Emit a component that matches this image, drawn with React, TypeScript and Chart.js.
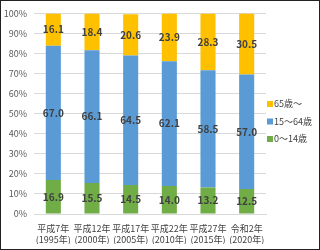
import React, { useEffect, useRef } from "react";
import { Chart, registerables } from "chart.js";

Chart.register(...registerables);

const categories: string[][] = [
  ["平成7年", "(1995年)"],
  ["平成12年", "(2000年)"],
  ["平成17年", "(2005年)"],
  ["平成22年", "(2010年)"],
  ["平成27年", "(2015年)"],
  ["令和2年", "(2020年)"],
];
const age0to14 = [16.9, 15.5, 14.5, 14.0, 13.2, 12.5];
const age15to64 = [67.0, 66.1, 64.5, 62.1, 58.5, 57.0];
const age65plus = [16.1, 18.4, 20.6, 23.9, 28.3, 30.5];
const seriesNames = ["0～14歳", "15～64歳", "65歳～"];
const colors = ["#70AD47", "#5B9BD5", "#FFC000"];

const FONT = "'Noto Sans CJK JP', 'Noto Sans', sans-serif";

const labelPlugin = {
  id: "segLabels",
  afterDatasetsDraw(chart: any) {
    const ctx = chart.ctx;
    ctx.save();
    ctx.font = `bold 10px ${FONT}`;
    ctx.fillStyle = "#404040";
    ctx.textAlign = "center";
    ctx.textBaseline = "middle";
    chart.data.datasets.forEach((ds: any, di: number) => {
      const meta = chart.getDatasetMeta(di);
      meta.data.forEach((el: any, i: number) => {
        const y = (el.y + el.base) / 2;
        ctx.fillText(Number(ds.data[i]).toFixed(1), el.x, y);
      });
    });
    ctx.restore();
  },
};

const legendPlugin = {
  id: "sideLegend",
  afterDraw(chart: any) {
    const ctx = chart.ctx;
    const area = chart.chartArea;
    const ds = chart.data.datasets;
    ctx.save();
    ctx.font = `9px ${FONT}`;
    ctx.textBaseline = "middle";
    ctx.textAlign = "left";
    const x = area.right + 1;
    const startY = 103;
    const step = 17.5;
    for (let k = 0; k < ds.length; k++) {
      const d = ds[ds.length - 1 - k];
      const y = startY + k * step;
      ctx.fillStyle = d.backgroundColor;
      ctx.fillRect(x, y - 3, 6, 6);
      ctx.fillStyle = "#404040";
      ctx.fillText(d.label, x + 7, y);
    }
    ctx.restore();
  },
};

export default function App() {
  const ref = useRef<HTMLCanvasElement>(null);
  useEffect(() => {
    document.body.style.margin = "0";
    const chart = new Chart(ref.current!, {
      type: "bar",
      data: {
        labels: categories,
        datasets: [age0to14, age15to64, age65plus].map((d, i) => ({
          label: seriesNames[i],
          data: d,
          backgroundColor: colors[i],
          borderWidth: 0,
          categoryPercentage: 1,
          barPercentage: 0.39,
        })),
      },
      options: {
        animation: false,
        responsive: false,
        maintainAspectRatio: false,
        layout: { padding: { left: 3, top: 7, right: 53, bottom: 5 } },
        plugins: {
          tooltip: { enabled: false },
          legend: { display: false },
        },
        scales: {
          x: {
            stacked: true,
            grid: { display: false, drawTicks: false },
            border: { color: "#d9d9d9" },
            afterFit: (s: any) => {
              s.height = 30;
            },
            ticks: {
              color: "#404040",
              font: { family: FONT, size: 9, lineHeight: 1.2 },
              autoSkip: false,
              maxRotation: 0,
              padding: 9,
            },
          },
          y: {
            stacked: true,
            min: 0,
            max: 100,
            grid: { color: "#d9d9d9", drawTicks: false },
            border: { display: false },
            afterFit: (s: any) => {
              s.width = 30;
            },
            ticks: {
              stepSize: 10,
              color: "#595959",
              font: { family: FONT, size: 9 },
              padding: 7,
              callback: (v: any) => v + "%",
            },
          },
        },
      },
      plugins: [labelPlugin, legendPlugin],
    });
    return () => chart.destroy();
  }, []);
  return (
    <div style={{ width: 320, height: 250, border: "1px solid #222", boxSizing: "border-box" }}>
      <canvas ref={ref} width={318} height={248} style={{ display: "block" }} />
    </div>
  );
}
